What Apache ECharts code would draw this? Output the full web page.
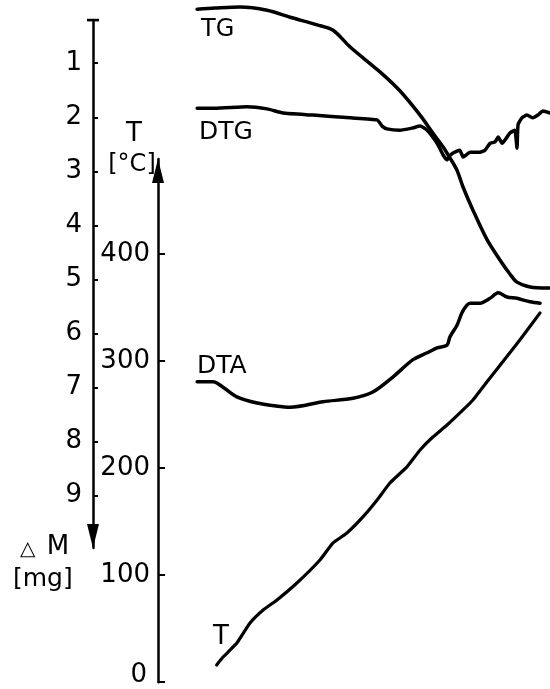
<!DOCTYPE html>
<html><head><meta charset="utf-8">
<script src="https://cdn.jsdelivr.net/npm/echarts@6/dist/echarts.min.js"></script>
<style>html,body{margin:0;padding:0;background:#fff}#c{width:550px;height:689px}</style>
</head><body><div id="c"></div>
<script>
// horizontal position: arbitrary run units 0-100 (no scale shown in the figure)
const tgX = [0.6, 5.6, 12.7, 20.3, 26.8, 34.4, 38.9, 43.7, 52.1, 57.7, 63.4, 67.0, 69.9, 71.8, 73.8, 75.5, 78.3, 82.3, 85.9, 88.7, 90.7, 94.4, 99.2, 100];
const tgM = [0.00, -0.02, -0.04, 0.02, 0.15, 0.29, 0.39, 0.70, 1.16, 1.51, 1.96, 2.29, 2.55, 2.75, 2.98, 3.29, 3.72, 4.27, 4.64, 4.90, 5.05, 5.14, 5.16, 5.16];
const dtgX = [0.6, 5.6, 14.6, 20.3, 24.8, 33.2, 43.7, 51.3, 52.7, 54.1, 57.7, 61.1, 63.4, 65.4, 68.2, 69.9, 71.0, 71.8, 72.7, 74.6, 75.5, 77.5, 80.3, 81.7, 83.1, 84.5, 85.4, 86.5, 87.9, 88.7, 90.1, 90.7, 91.0, 92.1, 93.5, 95.2, 96.6, 98.0, 100];
const dtgV = [84.3, 84.3, 84.5, 84.2, 83.6, 83.3, 82.9, 82.6, 81.7, 81.3, 81.1, 81.4, 81.7, 81.1, 79.2, 77.5, 76.8, 77.4, 77.8, 78.2, 77.2, 77.9, 77.9, 78.2, 79.2, 79.4, 80.1, 79.2, 80.1, 80.7, 81.1, 78.5, 81.9, 82.9, 83.3, 82.9, 83.3, 83.9, 83.6];
const dtaX = [0.6, 5.1, 7.9, 11.8, 17.5, 22.5, 26.8, 36.1, 44.5, 50.1, 55.8, 61.4, 65.4, 68.2, 71.0, 71.8, 73.8, 75.2, 76.6, 77.5, 80.3, 83.1, 85.4, 87.9, 90.7, 94.4, 97.2];
const dtaV = [44.6, 44.6, 43.8, 42.4, 41.5, 41.1, 40.9, 41.7, 42.2, 43.1, 45.3, 47.8, 48.8, 49.5, 49.9, 51.1, 52.8, 54.6, 55.7, 56.0, 56.0, 56.7, 57.5, 56.9, 56.7, 56.2, 56.0];
const tX = [6.1, 7.9, 9.9, 11.8, 15.5, 19.2, 23.1, 28.7, 35.2, 38.9, 42.8, 47.3, 51.3, 54.9, 59.7, 63.4, 67.0, 71.0, 75.5, 78.3, 83.1, 89.3, 91.5, 97.2];
const tC = [16.1, 23.5, 30.1, 36.6, 55.3, 67.4, 76.8, 92.6, 114.1, 130.0, 139.3, 154.3, 170.1, 186.0, 201.0, 216.8, 228.9, 240.1, 254.2, 263.5, 284.1, 310.2, 319.6, 344.8];
const massTicks = [1, 2, 3, 4, 5, 6, 7, 8, 9];
const tempTicks = [0, 100, 200, 300, 400];

const zip = (xs, ys) => xs.map((x, i) => [x, ys[i]]);
const font = 'DejaVu Sans';
const ls = (w) => ({color: '#000', width: w, cap: 'round', join: 'round'});
const arrowPath = 'path://M6,0 L12,24 L0,24 Z';
const capPath = 'path://M0,0 M0,10.8 L12,10.8 L12,13.4 L0,13.4 Z M12,24';
const txt = (text, x, y, size, align) => ({
  type: 'text', x: x, y: y, silent: true,
  style: {text: text, fill: '#000', fontSize: size, fontFamily: font,
    align: align || 'left', textAlign: align || 'left', verticalAlign: 'middle', textVerticalAlign: 'middle'}
});

const chart = echarts.init(document.getElementById('c'), null, {renderer: 'canvas'});
chart.setOption({
  animation: false,
  backgroundColor: '#fff',
  grid: [
    {left: 195, right: 0, top: 20, bottom: 141},
    {left: 195, right: 0, top: 159, bottom: 6.8},
    {left: 195, right: 0, top: 0, bottom: 0}
  ],
  xAxis: [0, 1, 2].map(i => ({type: 'value', gridIndex: i, min: 0, max: 100, show: false})),
  yAxis: [
    {type: 'value', gridIndex: 0, inverse: true, min: 0.2, max: 9.97, position: 'left', offset: 102,
     axisLine: {show: true, onZero: false, lineStyle: {color: '#000', width: 2.5}, symbol: [arrowPath, capPath], symbolSize: [12, 24], symbolOffset: [12, 0]},
     axisTick: {show: true, inside: true, length: 5, lineStyle: {color: '#000', width: 2}, customValues: massTicks},
     axisLabel: {show: true, customValues: massTicks, margin: 11, color: '#000', fontSize: 26, fontFamily: font},
     splitLine: {show: false}},
    {type: 'value', gridIndex: 1, min: 0, max: 488.5, position: 'left', offset: 37,
     axisLine: {show: true, onZero: false, lineStyle: {color: '#000', width: 2.5}, symbol: ['none', arrowPath], symbolSize: [12, 24], symbolOffset: [0, -12]},
     axisTick: {show: true, inside: true, length: 7, lineStyle: {color: '#000', width: 2}, customValues: tempTicks},
     axisLabel: {show: true, customValues: tempTicks, margin: 8, color: '#000', fontSize: 26, fontFamily: font,
       formatter: v => v === 0 ? '{z|0}' : String(v),
       rich: {z: {padding: [0, 3, 14, 0], fontSize: 26, fontFamily: font, color: '#000'}}},
     splitLine: {show: false}},
    {type: 'value', gridIndex: 2, min: 0, max: 100, show: false}
  ],
  series: [
    {name: 'TG', type: 'line', xAxisIndex: 0, yAxisIndex: 0, data: zip(tgX, tgM), symbol: 'none', smooth: 0.3, clip: false, lineStyle: ls(3.5)},
    {name: 'DTG', type: 'line', xAxisIndex: 2, yAxisIndex: 2, data: zip(dtgX, dtgV), symbol: 'none', smooth: 0.15, clip: false, lineStyle: ls(3.5)},
    {name: 'DTA', type: 'line', xAxisIndex: 2, yAxisIndex: 2, data: zip(dtaX, dtaV), symbol: 'none', smooth: 0.3, clip: false, lineStyle: ls(3.5)},
    {name: 'T', type: 'line', xAxisIndex: 1, yAxisIndex: 1, data: zip(tX, tC), symbol: 'none', smooth: 0.15, clip: false, lineStyle: ls(3.2)}
  ],
  graphic: [
    txt('TG', 201, 30, 24),
    txt('DTG', 199, 132, 25),
    txt('DTA', 197, 366, 25),
    txt('T', 213, 637, 26),
    txt('T', 134, 134, 26, 'center'),
    txt('[°C]', 132, 165, 24, 'center'),
    {type: 'text', x: 20, y: 547, silent: true,
     style: {text: '{a|△} M', fill: '#000', fontSize: 26, fontFamily: font, align: 'left', textAlign: 'left', verticalAlign: 'middle', textVerticalAlign: 'middle',
       rich: {a: {fontSize: 20, fontFamily: font, fill: '#000', color: '#000', padding: [6, 3, 0, 0]}}}},
    txt('[mg]', 13, 579, 25)
  ]
});
</script></body></html>
